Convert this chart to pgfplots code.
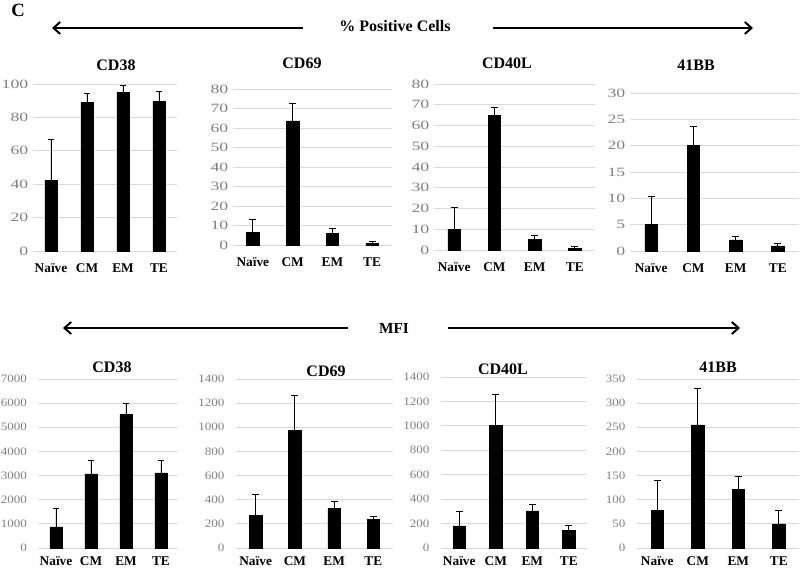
\documentclass[border=0pt]{standalone}
\usepackage{pgfplots}
\pgfplotsset{compat=1.18}
\usepackage{fontspec}
\setmainfont{Liberation Serif}
\usetikzlibrary{arrows.meta}
\definecolor{tickgray}{RGB}{128,128,128}
\definecolor{gridgray}{RGB}{217,217,217}
\pgfplotsset{
 panel/.style={
  scale only axis, anchor=south west,
  axis line style={draw=none},
  ymajorgrids, grid style={gridgray, line width=0.6pt},
  major tick length=0pt,
  xmin=-0.5, xmax=3.5, ymin=0,
  xtick={0,1,2,3}, xticklabels={Naïve,CM,EM,TE},
  /pgf/number format/assume math mode=true,
  /pgf/number format/1000 sep={},
  ybar, bar width=9.3pt, bar shift=0pt, clip=false,
 },
 toprow/.style={yticklabel style={tickgray, font=\fontsize{9.5}{10}\selectfont, xscale=1.4, xshift=1pt},
  xticklabel style={font=\bfseries\fontsize{10}{12}\selectfont, yshift=-6pt}},
 botrow/.style={yticklabel style={tickgray, font=\fontsize{8.5}{10}\selectfont, xscale=1.15, xshift=-4pt},
  xticklabel style={font=\bfseries\fontsize{10}{12}\selectfont, yshift=-3pt}},
 barplot/.style={fill=black, draw=black,
  error bars/.cd, y dir=plus, y explicit,
  error bar style={black, line width=0.7pt},
  error mark options={rotate=90, black, mark size=2.6pt, line width=0.7pt}},
}
\begin{document}
\begin{tikzpicture}
\path[use as bounding box] (0,0) rectangle (600pt,427.5pt);
\node[font=\bfseries\fontsize{14}{16}\selectfont] at (13.5pt,420pt) {C};
% arrows
\draw[line width=1.5pt, -{Straight Barb[length=5pt,width=9pt]}] (227.25pt,406.5pt) -- (39pt,406.5pt);
\draw[line width=1.5pt, -{Straight Barb[length=5pt,width=9pt]}] (369.75pt,406.5pt) -- (564.75pt,406.5pt);
\node[font=\bfseries\fontsize{12}{14}\selectfont] at (296.25pt,408pt) {\% Positive Cells};
\draw[line width=1.5pt, -{Straight Barb[length=5pt,width=9pt]}] (261pt,181.5pt) -- (47.25pt,181.5pt);
\draw[line width=1.5pt, -{Straight Barb[length=5pt,width=9pt]}] (336pt,181.5pt) -- (555pt,181.5pt);
\node[font=\bfseries\fontsize{11.5}{14}\selectfont] at (295.5pt,181.5pt) {MFI};
% titles
\begin{scope}[every node/.style={font=\bfseries\fontsize{12}{14}\selectfont}]
\node at (87pt,378.75pt) {CD38};
\node at (226.5pt,380.25pt) {CD69};
\node at (380.25pt,380.25pt) {CD40L};
\node at (522pt,378.75pt) {41BB};
\node at (84pt,152.25pt) {CD38};
\node at (244.5pt,149.25pt) {CD69};
\node at (377.25pt,150.75pt) {CD40L};
\node at (538.5pt,152.25pt) {41BB};
\end{scope}
% top row
\begin{axis}[panel, toprow, at={(24.75pt,239.25pt)}, width=108pt, height=125.25pt, ymax=100, ytick={0,20,...,100}]
\addplot[barplot] coordinates {(0,42.5) +- (0,24) (1,89.2) +- (0,5) (2,94.8) +- (0,4.2) (3,89.8) +- (0,5.8)};
\end{axis}
\begin{axis}[panel, toprow, at={(174.75pt,243.75pt)}, width=119.25pt, height=117pt, ymax=80, ytick={0,10,...,80}]
\addplot[barplot] coordinates {(0,6.3) +- (0,6.9) (1,63.7) +- (0,9.1) (2,5.9) +- (0,2.8) (3,0.9) +- (0,0.8)};
\end{axis}
\begin{axis}[panel, toprow, at={(325.5pt,240pt)}, width=120.75pt, height=124.5pt, ymax=80, ytick={0,10,...,80}]
\addplot[barplot] coordinates {(0,10.1) +- (0,10.5) (1,64.9) +- (0,4) (2,5.2) +- (0,1.6) (3,0.8) +- (0,1.1)};
\end{axis}
\begin{axis}[panel, toprow, at={(472.5pt,239.25pt)}, width=126.75pt, height=118.5pt, ymax=30, ytick={0,5,...,30}]
\addplot[barplot] coordinates {(0,5.1) +- (0,5.2) (1,20.1) +- (0,3.6) (2,2.1) +- (0,0.6) (3,0.95) +- (0,0.5)};
\end{axis}
% bottom row
\begin{axis}[panel, botrow, at={(28.875pt,16.5pt)}, width=105pt, height=126.75pt, ymax=7000, ytick={0,1000,...,7000}]
\addplot[barplot] coordinates {(0,870) +- (0,770) (1,3065) +- (0,570) (2,5523) +- (0,480) (3,3107) +- (0,525)};
\end{axis}
\begin{axis}[panel, botrow, at={(177pt,16.5pt)}, width=117.75pt, height=126.75pt, ymax=1400, ytick={0,200,...,1400}]
\addplot[barplot] coordinates {(0,271) +- (0,176) (1,972) +- (0,293) (2,326) +- (0,61) (3,240) +- (0,22)};
\end{axis}
\begin{axis}[panel, botrow, at={(330.75pt,16.5pt)}, width=109.5pt, height=128.25pt, ymax=1400, ytick={0,200,...,1400}]
\addplot[barplot] coordinates {(0,181) +- (0,120) (1,1003) +- (0,252) (2,304) +- (0,55) (3,145) +- (0,36)};
\end{axis}
\begin{axis}[panel, botrow, at={(477.75pt,16.5pt)}, width=121.5pt, height=126.75pt, ymax=350, ytick={0,50,...,350}]
\addplot[barplot] coordinates {(0,78) +- (0,61) (1,255) +- (0,76) (2,121) +- (0,27) (3,50) +- (0,28)};
\end{axis}
\end{tikzpicture}
\end{document}
